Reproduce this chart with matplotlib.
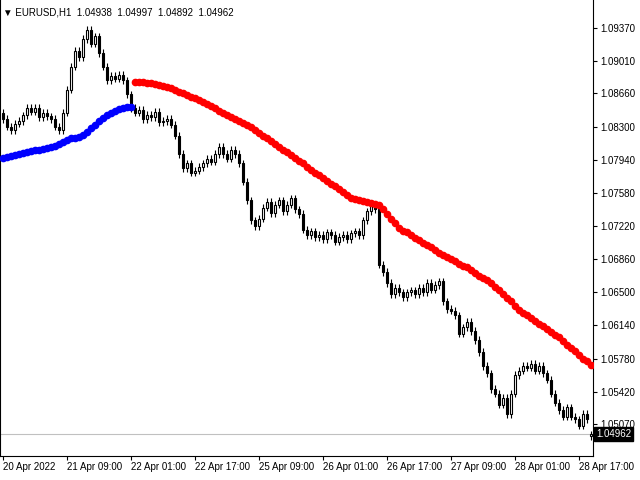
import matplotlib
matplotlib.use('Agg')
import matplotlib.pyplot as plt
import numpy as np

plt.rcParams['font.family'] = ['Liberation Sans', 'DejaVu Sans']

# EURUSD H1 closes
closes = [1.0838, 1.0830, 1.0826, 1.0833, 1.0836, 1.0842, 1.0850, 1.0846, 1.0850, 1.0840, 1.0845, 1.0841, 1.0838, 1.0830, 1.0826,
          1.0845, 1.0870, 1.0895, 1.0912, 1.0905, 1.0925, 1.0935, 1.0920, 1.0928,
          1.0910, 1.0895, 1.0880, 1.0885, 1.0882, 1.0886, 1.0880,
          1.0865, 1.0850, 1.0845,
          1.0848, 1.0838, 1.0843, 1.0840, 1.0846, 1.0835, 1.0836, 1.0838, 1.0832,
          1.0820, 1.0800, 1.0785, 1.0790, 1.0780, 1.0782, 1.0786,
          1.0790, 1.0795, 1.0792, 1.0800, 1.0808, 1.0800,
          1.0795, 1.0805, 1.0800, 1.0790,
          1.0770, 1.0750, 1.0728, 1.0722, 1.0730,
          1.0742, 1.0748, 1.0736, 1.0745, 1.0750, 1.0738, 1.0745, 1.0752, 1.0740, 1.0735,
          1.0718, 1.0712,
          1.0716, 1.0710, 1.0712, 1.0708, 1.0715, 1.0712, 1.0705, 1.0710, 1.0712, 1.0708, 1.0714, 1.0716, 1.0712,
          1.0728, 1.0738, 1.0745, 1.0740,
          1.0680, 1.0672,
          1.0660, 1.0648, 1.0655, 1.0650,
          1.0645, 1.0650, 1.0652, 1.0648, 1.0655, 1.0650, 1.0660, 1.0653, 1.0658, 1.0662,
          1.0640, 1.0632, 1.0630, 1.0625,
          1.0605, 1.0612, 1.0618,
          1.0608, 1.0598, 1.0585,
          1.0570, 1.0562,
          1.0545, 1.0540, 1.0528, 1.0535, 1.0518, 1.0540,
          1.0560, 1.0565, 1.0570, 1.0568, 1.0572, 1.0565, 1.0570, 1.0562, 1.0555,
          1.0540, 1.0530, 1.0522, 1.0515, 1.0525,
          1.0515, 1.0512, 1.0505, 1.0518, 1.0512, 1.0496]
first_open = 1.0845
last_ohlc = [1.04938, 1.04997, 1.04892, 1.04962]

ma_blue = [1.0796, 1.0797, 1.0798, 1.0799, 1.0800, 1.0801, 1.0802, 1.0803, 1.0804, 1.0805,
           1.0806, 1.0807, 1.0808, 1.0809, 1.0811, 1.0813, 1.0815, 1.0817, 1.0818, 1.0819,
           1.0821, 1.0824, 1.0828, 1.0832, 1.0836, 1.0839, 1.0842, 1.0845, 1.0847, 1.0849,
           1.0850, 1.0851, 1.0851]
ma_red = [1.0878, 1.0878, 1.0878, 1.0877, 1.0877, 1.0876, 1.0875, 1.0874, 1.0873, 1.0872,
          1.0870, 1.0868, 1.0866, 1.0864, 1.0862, 1.0861, 1.0859,
          1.0857, 1.0854, 1.0852, 1.0850, 1.0847, 1.0845, 1.0842, 1.0840, 1.0838, 1.0836, 1.0834, 1.0832, 1.0829,
          1.0826, 1.0823, 1.0820, 1.0817, 1.0814, 1.0811, 1.0808, 1.0805, 1.0802, 1.0799,
          1.0796, 1.0793, 1.0790, 1.0786, 1.0783,
          1.0780, 1.0777, 1.0774, 1.0771, 1.0768, 1.0765, 1.0762, 1.0759, 1.0756, 1.0752,
          1.0751, 1.0750, 1.0749, 1.0748, 1.0747, 1.0746, 1.0745,
          1.0740, 1.0735, 1.0730, 1.0725, 1.0720,
          1.0717, 1.0715, 1.0712, 1.0709, 1.0707, 1.0704, 1.0701, 1.0699, 1.0696, 1.0693,
          1.0691, 1.0688, 1.0686, 1.0684, 1.0681, 1.0679, 1.0677, 1.0674,
          1.0671, 1.0668, 1.0666, 1.0663, 1.0660,
          1.0656, 1.0652, 1.0648, 1.0644, 1.0640, 1.0635, 1.0631,
          1.0628, 1.0625, 1.0622, 1.0619, 1.0616, 1.0613, 1.0610, 1.0607, 1.0604, 1.0601,
          1.0597, 1.0593, 1.0590, 1.0586, 1.0582, 1.0578, 1.0575, 1.0571]

price_ticks = [1.09370, 1.09010, 1.08660, 1.08300, 1.07940, 1.07580, 1.07220,
               1.06860, 1.06500, 1.06140, 1.05780, 1.05420, 1.05070]
time_labels = ['20 Apr 2022', '21 Apr 09:00', '22 Apr 01:00', '22 Apr 17:00', '25 Apr 09:00',
               '26 Apr 01:00', '26 Apr 17:00', '27 Apr 09:00', '28 Apr 01:00', '28 Apr 17:00']
wick = 0.0004

closes = np.array(closes)
opens = np.concatenate([[first_open], closes[:-1]])
highs = np.maximum(opens, closes) + wick
lows = np.minimum(opens, closes) - wick
opens[-1], highs[-1], lows[-1], closes[-1] = last_ohlc
n = len(closes)
idx = np.arange(n)

fig = plt.figure(figsize=(6.4, 4.8), dpi=100)
ax = fig.add_axes([0, 0.05, 593 / 640, 0.95])

ax.vlines(idx, lows, highs, color='black', linewidth=0.8, zorder=2)
up = closes >= opens
body = np.maximum(np.abs(closes - opens), 0.00003)
bottom = np.minimum(opens, closes)
ax.bar(idx[up], body[up], bottom=bottom[up], width=0.6,
       color='white', edgecolor='black', linewidth=0.8, zorder=3)
ax.bar(idx[~up], body[~up], bottom=bottom[~up], width=0.6,
       color='black', edgecolor='black', linewidth=0.8, zorder=3)

ax.plot(idx[:len(ma_blue)], ma_blue, 'o', color='#0000ff', markersize=4.5, zorder=4)
ax.plot(idx[len(ma_blue):], ma_red, 'o', color='#ff0000', markersize=4.5, zorder=4)

ax.axhline(last_ohlc[3], color='#c0c0c0', linewidth=0.8, zorder=1)

ax.set_xlim(-0.75, 147.5)
ax.set_ylim(1.04722, 1.09674)
ax.yaxis.tick_right()
ax.set_yticks(price_ticks)
ax.set_yticklabels([f'{p:.5f}' for p in price_ticks])
ax.set_xticks(idx[::16])
ax.set_xticklabels(time_labels, ha='left')
ax.tick_params(labelsize=7, length=3, pad=2)
ax.tick_params(axis='x', pad=1)
ax.spines['top'].set_visible(False)

ax.text(1.005, (last_ohlc[3] - 1.04722) / (1.09674 - 1.04722), f'{last_ohlc[3]:.5f}',
        transform=ax.transAxes, fontsize=7, color='white', va='center', ha='left',
        bbox=dict(boxstyle='square,pad=0.2', fc='black', ec='black'))

fig.text(0.005, 0.985, '\u25bc EURUSD,H1  ' + '  '.join(f'{v:.5f}' for v in last_ohlc),
         fontsize=7, va='top', ha='left')

fig.savefig('out.png')
